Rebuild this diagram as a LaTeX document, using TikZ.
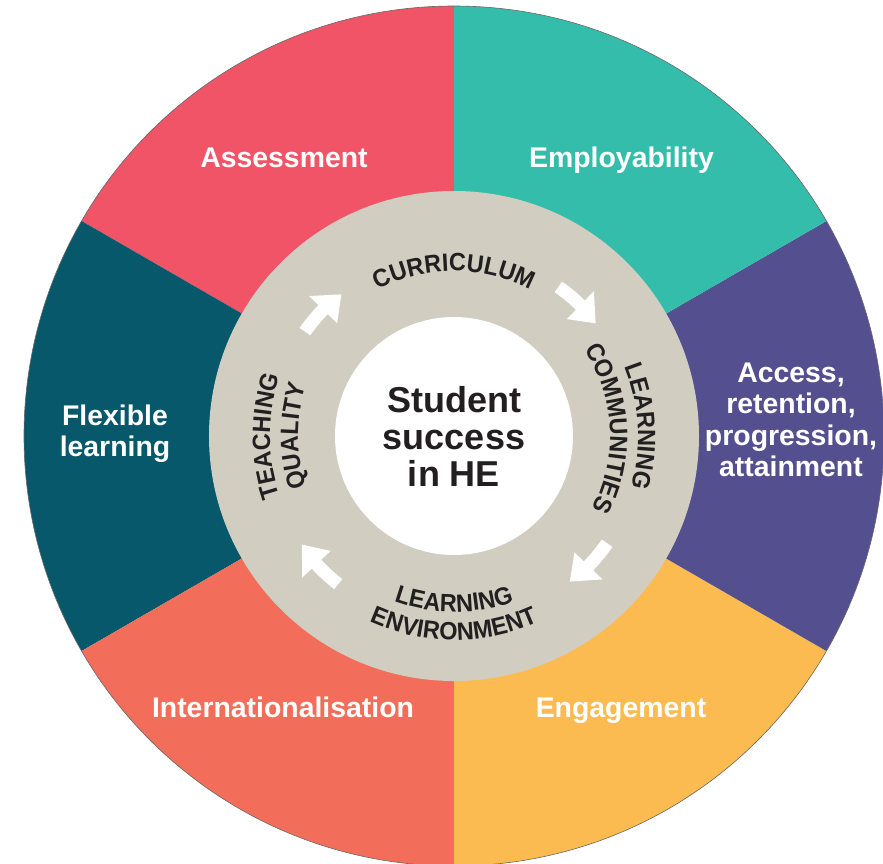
\documentclass[tikz,border=0pt]{standalone}
\usepackage{fontspec}
\setmainfont{Liberation Sans}
\newfontfamily\ringfam{Liberation Sans}[FakeStretch=0.94]
\usetikzlibrary{decorations.text}
\definecolor{cAssess}{HTML}{F05466}
\definecolor{cEmploy}{HTML}{35BDAB}
\definecolor{cAccess}{HTML}{544F8F}
\definecolor{cEngage}{HTML}{FCBB50}
\definecolor{cIntern}{HTML}{F26E5B}
\definecolor{cFlex}{HTML}{06586A}
\definecolor{cRing}{HTML}{D1CDC1}
\definecolor{cText}{HTML}{231F20}
\newcommand\ringfont{\ringfam\fontsize{25}{25}\selectfont\bfseries\color{cText}}
% #1 = angle of the head base, #2 = mid radius, arrow runs clockwise
\newcommand\ringarrow[2]{%
  \fill[white] (#1+9:#2+6.5) arc[start angle=#1+9, end angle=#1, radius=#2+6.5]
    -- (#1:#2+19.5) -- (#1-7.5:#2-1) -- (#1:#2-19.5) -- (#1:#2-6.5)
    arc[start angle=#1, end angle=#1+9, radius=#2-6.5] -- cycle;}
\begin{document}
\begin{tikzpicture}[x=1pt,y=1pt,
  seclabel/.style={text=white, font=\fontsize{28.4}{31.3}\selectfont\bfseries, inner sep=0pt, align=center},
  hublabel/.style={text=cText, font=\fontsize{36}{37}\selectfont\bfseries, inner sep=0pt, align=center},
  ringtext/.style={decorate, decoration={text along path, text align=center, text={|\ringfont|#1}}}]
\useasboundingbox (-454,-427) rectangle (429,436);
% sectors
\fill[cAssess] (0,0) -- (90:430) arc[start angle=90, end angle=150, radius=430] -- cycle;
\fill[cFlex]   (0,0) -- (150:430) arc[start angle=150, end angle=210, radius=430] -- cycle;
\fill[cIntern] (0,0) -- (210:430) arc[start angle=210, end angle=270, radius=430] -- cycle;
\fill[cEngage] (0,0) -- (270:430) arc[start angle=270, end angle=330, radius=430] -- cycle;
\fill[cAccess] (0,0) -- (-30:430) arc[start angle=-30, end angle=30, radius=430] -- cycle;
\fill[cEmploy] (0,0) -- (30:430) arc[start angle=30, end angle=90, radius=430] -- cycle;
\draw[black!60, line width=0.6pt] (0,0) circle[radius=430];
% ring and hub
\fill[cRing] (0,0) circle[radius=245];
\fill[white] (0,0) circle[radius=119];
% arrows
\ringarrow{136}{182}
\ringarrow{46}{182}
\ringarrow{-44}{187}
\ringarrow{-137}{188}
% ring texts
\path[ringtext=CURRICULUM] (150:165) arc[start angle=150, end angle=30, radius=165];
\path[ringtext=LEARNING] (63:184) arc[start angle=63, end angle=-57, radius=184];
\path[ringtext=COMMUNITIES] (63:156) arc[start angle=63, end angle=-57, radius=156];
\path[ringtext=TEACHING] (240:184) arc[start angle=240, end angle=120, radius=184];
\path[ringtext=QUALITY] (240:156) arc[start angle=240, end angle=120, radius=156];
\path[ringtext=LEARNING] (210:176) arc[start angle=210, end angle=330, radius=176];
\path[ringtext=ENVIRONMENT] (210:204) arc[start angle=210, end angle=330, radius=204];
% hub label
\node[hublabel] (hub) at (0,-0.75) {Student\\success\\in HE};
% sector labels
\node[seclabel, anchor=base] (assess) at (-170,269) {Assessment};
\node[seclabel, anchor=base] (employ) at (167.5,269) {Employability};
\node[seclabel] (access) at (337,16) {Access,\\retention,\\progression,\\attainment};
\node[seclabel] (flex) at (-339,2) {Flexible\\learning};
\node[seclabel, anchor=base] (intern) at (-171,-281) {Internationalisation};
\node[seclabel, anchor=base] (engage) at (167,-281) {Engagement};
\end{tikzpicture}
\end{document}
